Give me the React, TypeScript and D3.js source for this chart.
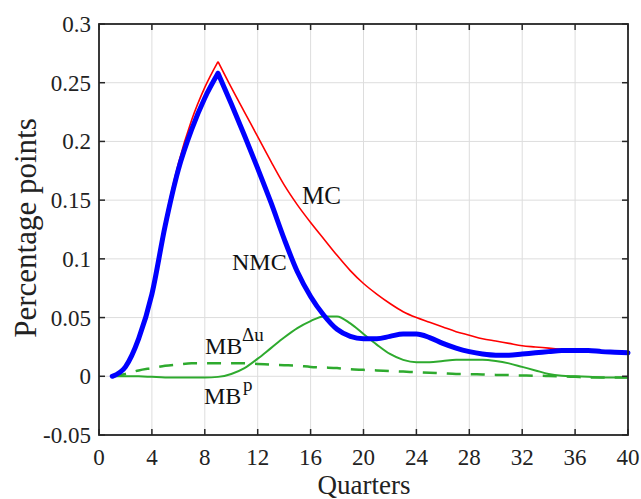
import React from "react";
import * as d3 from "d3";

const quarters = d3.range(1, 41);
const mc = [0, 0.008, 0.034, 0.073, 0.132, 0.181, 0.218, 0.246, 0.268, 0.246, 0.225, 0.204, 0.183, 0.163, 0.146, 0.131, 0.117, 0.103, 0.09, 0.079, 0.07, 0.062, 0.055, 0.05, 0.046, 0.042, 0.038, 0.035, 0.032, 0.03, 0.028, 0.026, 0.025, 0.024, 0.023, 0.022, 0.022, 0.021, 0.0205, 0.02];
const nmc = [0, 0.008, 0.032, 0.07, 0.128, 0.176, 0.21, 0.237, 0.258, 0.232, 0.205, 0.177, 0.148, 0.117, 0.089, 0.068, 0.052, 0.04, 0.034, 0.032, 0.032, 0.034, 0.036, 0.036, 0.033, 0.028, 0.024, 0.021, 0.019, 0.018, 0.018, 0.019, 0.02, 0.021, 0.022, 0.022, 0.022, 0.021, 0.0205, 0.02];
const mbDu = [0, 0, 0, -0.0005, -0.001, -0.001, -0.001, -0.001, -0.0005, 0.002, 0.007, 0.015, 0.024, 0.033, 0.041, 0.047, 0.051, 0.051, 0.045, 0.036, 0.027, 0.019, 0.014, 0.012, 0.012, 0.013, 0.014, 0.014, 0.014, 0.013, 0.011, 0.008, 0.005, 0.002, 0.0005, 0, -0.0005, -0.001, -0.001, -0.001];
const mbP = [0, 0.002, 0.005, 0.007, 0.009, 0.01, 0.011, 0.011, 0.011, 0.011, 0.011, 0.0105, 0.01, 0.0095, 0.009, 0.008, 0.0075, 0.007, 0.006, 0.0055, 0.005, 0.0045, 0.004, 0.0035, 0.003, 0.0025, 0.002, 0.0018, 0.0015, 0.0012, 0.001, 0.0007, 0.0005, 0.0003, 0, -0.0005, -0.001, -0.001, -0.001, -0.001];

const xTicks = [0, 4, 8, 12, 16, 20, 24, 28, 32, 36, 40];
const yTicks = [-0.05, 0, 0.05, 0.1, 0.15, 0.2, 0.25, 0.3];
const yTickLabels = ["-0.05", "0", "0.05", "0.1", "0.15", "0.2", "0.25", "0.3"];
const PEAK = 8; // index of quarter 9, where the response peaks

const FONT = "'Liberation Serif', 'Times New Roman', serif";

export default function App() {
  const W = 641, H = 499;
  const L = 99, R = 628, T = 24, B = 435;
  const x = d3.scaleLinear().domain([0, 40]).range([L, R]);
  const y = d3.scaleLinear().domain([-0.05, 0.3]).range([B, T]);
  const gen = d3
    .line<[number, number]>()
    .x((d) => x(d[0]))
    .y((d) => y(d[1]))
    .curve(d3.curveMonotoneX);
  const pts = (vals: number[]) => vals.map((v, i) => [quarters[i], v] as [number, number]);
  const smooth = (vals: number[]) => gen(pts(vals)) || "";
  const kinked = (vals: number[]) => {
    const p = pts(vals);
    return (gen(p.slice(0, PEAK + 1)) || "") + (gen(p.slice(PEAK)) || "");
  };
  const green = "#2eaa2e";
  const frame = "#262626";
  return (
    <svg width={W} height={H} style={{ position: "absolute", left: 0, top: 0, background: "#fff" }}>
      <rect x={0} y={0} width={W} height={H} fill="#fff" />
      {xTicks.map((t) => (
        <line key={"gx" + t} x1={x(t)} x2={x(t)} y1={T} y2={B} stroke="#dddddd" strokeWidth={1} />
      ))}
      {yTicks.map((t) => (
        <line key={"gy" + t} x1={L} x2={R} y1={y(t)} y2={y(t)} stroke="#dddddd" strokeWidth={1} />
      ))}
      <path d={smooth(mbP)} fill="none" stroke={green} strokeWidth={2.5} strokeDasharray="14,10" />
      <path d={smooth(mbDu)} fill="none" stroke={green} strokeWidth={2} />
      <path d={kinked(mc)} fill="none" stroke="#ff0000" strokeWidth={1.6} />
      <path d={kinked(nmc)} fill="none" stroke="#0000ff" strokeWidth={5} strokeLinejoin="round" strokeLinecap="round" />
      <rect x={L} y={T} width={R - L} height={B - T} fill="none" stroke={frame} strokeWidth={1.8} />
      {xTicks.map((t) => (
        <g key={"tx" + t}>
          <line x1={x(t)} x2={x(t)} y1={B} y2={B - 6} stroke={frame} strokeWidth={1.5} />
          <line x1={x(t)} x2={x(t)} y1={T} y2={T + 6} stroke={frame} strokeWidth={1.5} />
          <text x={x(t)} y={465} textAnchor="middle" fontFamily={FONT} fontSize={23} fill="#222">
            {t}
          </text>
        </g>
      ))}
      {yTicks.map((t, i) => (
        <g key={"ty" + t}>
          <line x1={L} x2={L + 6} y1={y(t)} y2={y(t)} stroke={frame} strokeWidth={1.5} />
          <line x1={R} x2={R - 6} y1={y(t)} y2={y(t)} stroke={frame} strokeWidth={1.5} />
          <text x={91} y={y(t) + 8} textAnchor="end" fontFamily={FONT} fontSize={23} fill="#222">
            {yTickLabels[i]}
          </text>
        </g>
      ))}
      <text x={364} y={494} textAnchor="middle" fontFamily={FONT} fontSize={27} fill="#222">
        Quarters
      </text>
      <text
        transform={`translate(36,228) rotate(-90)`}
        textAnchor="middle"
        fontFamily={FONT}
        fontSize={31}
        fill="#222"
      >
        Percentage points
      </text>
      <text x={302} y={204} fontFamily={FONT} fontSize={25} fill="#111">MC</text>
      <text x={232} y={270} fontFamily={FONT} fontSize={24} fill="#111">NMC</text>
      <text x={205} y={354} fontFamily={FONT} fontSize={24} fill="#111">MB</text>
      <text x={242} y={341} fontFamily={FONT} fontSize={19} fill="#111">Δu</text>
      <text x={204} y={404} fontFamily={FONT} fontSize={24} fill="#111">MB</text>
      <text x={243} y={391} fontFamily={FONT} fontSize={19} fill="#111">p</text>
    </svg>
  );
}
